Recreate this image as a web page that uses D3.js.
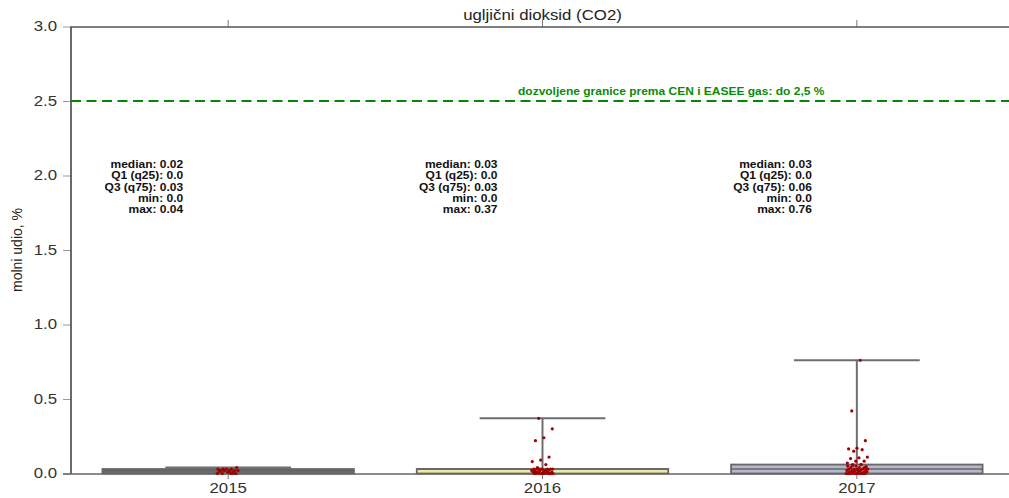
<!DOCTYPE html>
<html>
<head>
<meta charset="utf-8">
<script src="https://cdn.jsdelivr.net/npm/d3@7"></script>
<style>
  body { margin: 0; background: #fff; }
  svg { display: block; font-family: "Liberation Sans", Arial, sans-serif; }
</style>
</head>
<body>
<svg id="chart" width="1009" height="498"></svg>
<script>
// Categories and summary statistics
const years = ['2015', '2016', '2017'];
const medians = [0.02, 0.03, 0.03];
const q1s = [0.0, 0.0, 0.0];
const q3s = [0.03, 0.03, 0.06];
const mins = [0.0, 0.0, 0.0];
const maxs = [0.04, 0.37, 0.76];
const boxColors = ['#6b6b6b', '#ece9a9', '#b8b6cd'];

// Individual measurements (strip points)
const points2015 = [0, 0, 0, 0, 0.01, 0.01, 0.01, 0.02, 0.02, 0.02, 0.02, 0.02, 0.03, 0.03, 0.03, 0.03, 0.04, 0.01, 0.02, 0.0];
const points2016 = [0.37, 0.30, 0.24, 0.22, 0.11, 0.09, 0.08, 0.06, 0.04,
  0, 0, 0, 0, 0, 0, 0, 0, 0, 0, 0.01, 0.01, 0.01, 0.01, 0.01, 0.02, 0.02, 0.02, 0.02,
  0.02, 0.03, 0.03, 0.03, 0.03, 0.03, 0.03, 0.03, 0.02, 0.01, 0.0, 0.03];
const points2017 = [0.76, 0.42, 0.22, 0.17, 0.165, 0.16, 0.15, 0.11, 0.105, 0.10, 0.083, 0.083, 0.07, 0.06, 0.054, 0.047,
  0, 0, 0, 0, 0, 0, 0, 0, 0, 0, 0, 0.01, 0.01, 0.01, 0.01, 0.01, 0.02, 0.02, 0.02, 0.02, 0.02,
  0.03, 0.03, 0.03, 0.03, 0.03, 0.04, 0.04, 0.04, 0.05, 0.05, 0.06, 0.06, 0.03, 0.02, 0.01];
const allPoints = [points2015, points2016, points2017];

const yTicks = [0, 0.5, 1.0, 1.5, 2.0, 2.5, 3.0];
const limitValue = 2.5;
const limitLabel = 'dozvoljene granice prema CEN i EASEE gas: do 2,5 %';
const title = 'ugljični dioksid (CO2)';
const yLabel = 'molni udio, %';

// the source image is stretched horizontally, so text gets a wider look
const stretch = 1.2;

const svg = d3.select('#chart');

// Scales
const x = d3.scaleBand().domain(years).range([71, 1014]).padding(0);
const y = d3.scaleLinear().domain([0, 3]).range([473.5, 26.5]);
const bw = x.bandwidth();
const cx = d => x(d) + bw / 2;

function widen(sel) {
  sel.each(function () {
    const t = d3.select(this);
    const tx = +t.attr('x') || 0;
    const ty = +t.attr('y') || 0;
    t.attr('x', 0).attr('y', 0)
      .attr('transform', `translate(${tx},${ty}) scale(${stretch},1)`);
  });
}

// Y axis
const yAxis = svg.append('g')
  .attr('transform', 'translate(71,0)')
  .call(d3.axisLeft(y).tickValues(yTicks).tickFormat(d3.format('.1f')).tickSize(8).tickPadding(6));
yAxis.select('.domain').remove();
yAxis.selectAll('.tick line').attr('stroke', '#999');
yAxis.selectAll('.tick text').attr('fill', '#333').style('font-size', '14px').call(widen);

// Bottom axis
const xAxis = svg.append('g')
  .attr('transform', 'translate(0,474)')
  .call(d3.axisBottom(x).tickSize(5).tickPadding(4));
xAxis.select('.domain').remove();
xAxis.selectAll('.tick line').attr('stroke', '#777');
xAxis.selectAll('.tick text').attr('fill', '#333').style('font-size', '14px');
xAxis.selectAll('.tick text').attr('transform', `scale(${stretch},1)`);

// Top ticks
const topAxis = svg.append('g')
  .attr('transform', 'translate(0,27)')
  .call(d3.axisTop(x).tickSize(7).tickFormat(''));
topAxis.select('.domain').remove();
topAxis.selectAll('.tick line').attr('stroke', '#777');

// Spines
svg.append('line').attr('x1', 71).attr('x2', 71).attr('y1', 26.5).attr('y2', 474)
  .attr('stroke', '#444').attr('stroke-width', 1.6);
svg.append('line').attr('x1', 71).attr('x2', 1009).attr('y1', 27).attr('y2', 27)
  .attr('stroke', '#555').attr('stroke-width', 1.4);
svg.append('line').attr('x1', 63).attr('x2', 1009).attr('y1', 474).attr('y2', 474)
  .attr('stroke', '#666').attr('stroke-width', 1.6);

// Limit line
svg.append('line')
  .attr('x1', 71).attr('x2', 1009)
  .attr('y1', y(limitValue)).attr('y2', y(limitValue))
  .attr('stroke', '#008a00').attr('stroke-width', 2)
  .attr('stroke-dasharray', '10,5.5');
svg.append('text')
  .attr('x', 518).attr('y', y(limitValue) - 6)
  .attr('fill', '#0a8a0a').style('font-size', '10px').style('font-weight', 'bold')
  .text(limitLabel)
  .call(widen);

// Title
svg.append('text')
  .attr('x', (71 + 1014) / 2).attr('y', 20)
  .attr('text-anchor', 'middle').attr('fill', '#222').style('font-size', '14px')
  .text(title)
  .call(widen);

// Y label
svg.append('text')
  .attr('transform', `translate(22,${y(1.5)}) rotate(-90)`)
  .attr('text-anchor', 'middle').attr('fill', '#222').style('font-size', '14px')
  .text(yLabel);

// Boxes
const idx = years.map((d, i) => i);
const boxW = bw * 0.8;
const capW = bw * 0.4;

const g = svg.append('g');
g.selectAll('.whisker').data(idx).enter().append('line')
  .attr('x1', i => cx(years[i])).attr('x2', i => cx(years[i]))
  .attr('y1', i => y(q3s[i])).attr('y2', i => y(maxs[i]))
  .attr('stroke', '#6e6e6e').attr('stroke-width', 2);
g.selectAll('.cap').data(idx).enter().append('line')
  .attr('x1', i => cx(years[i]) - capW / 2).attr('x2', i => cx(years[i]) + capW / 2)
  .attr('y1', i => y(maxs[i])).attr('y2', i => y(maxs[i]))
  .attr('stroke', '#6e6e6e').attr('stroke-width', 2);
g.selectAll('.box').data(idx).enter().append('rect')
  .attr('x', i => cx(years[i]) - boxW / 2)
  .attr('width', boxW)
  .attr('y', i => y(q3s[i]))
  .attr('height', i => y(q1s[i]) - y(q3s[i]))
  .attr('fill', i => boxColors[i])
  .attr('stroke', '#666').attr('stroke-width', 1.8);
g.selectAll('.median').data(idx).enter().append('line')
  .attr('x1', i => cx(years[i]) - boxW / 2).attr('x2', i => cx(years[i]) + boxW / 2)
  .attr('y1', i => y(medians[i])).attr('y2', i => y(medians[i]))
  .attr('stroke', '#666').attr('stroke-width', 1.6);

// Strip points with deterministic jitter
const jitter = j => (((j * 0.6180339) % 1) - 0.5) * 22;
idx.forEach(i => {
  svg.append('g').selectAll('circle')
    .data(allPoints[i]).enter().append('circle')
    .attr('cx', (d, j) => cx(years[i]) + jitter(j + i * 7))
    .attr('cy', d => y(d))
    .attr('r', 1.6)
    .attr('fill', '#a00000');
});

// Stats text
const fmt = v => String(v).includes('.') ? String(v) : v.toFixed(1);
idx.forEach(i => {
  const lines = [
    'median: ' + fmt(medians[i]),
    'Q1 (q25): ' + fmt(q1s[i]),
    'Q3 (q75): ' + fmt(q3s[i]),
    'min: ' + fmt(mins[i]),
    'max: ' + fmt(maxs[i])
  ];
  svg.append('g').selectAll('text').data(lines).enter().append('text')
    .attr('x', cx(years[i]) - 45)
    .attr('y', (d, k) => y(2.05) + k * 11.3)
    .attr('text-anchor', 'end')
    .attr('fill', '#111').style('font-size', '10px').style('font-weight', 'bold')
    .text(d => d)
    .call(widen);
});
</script>
</body>
</html>
